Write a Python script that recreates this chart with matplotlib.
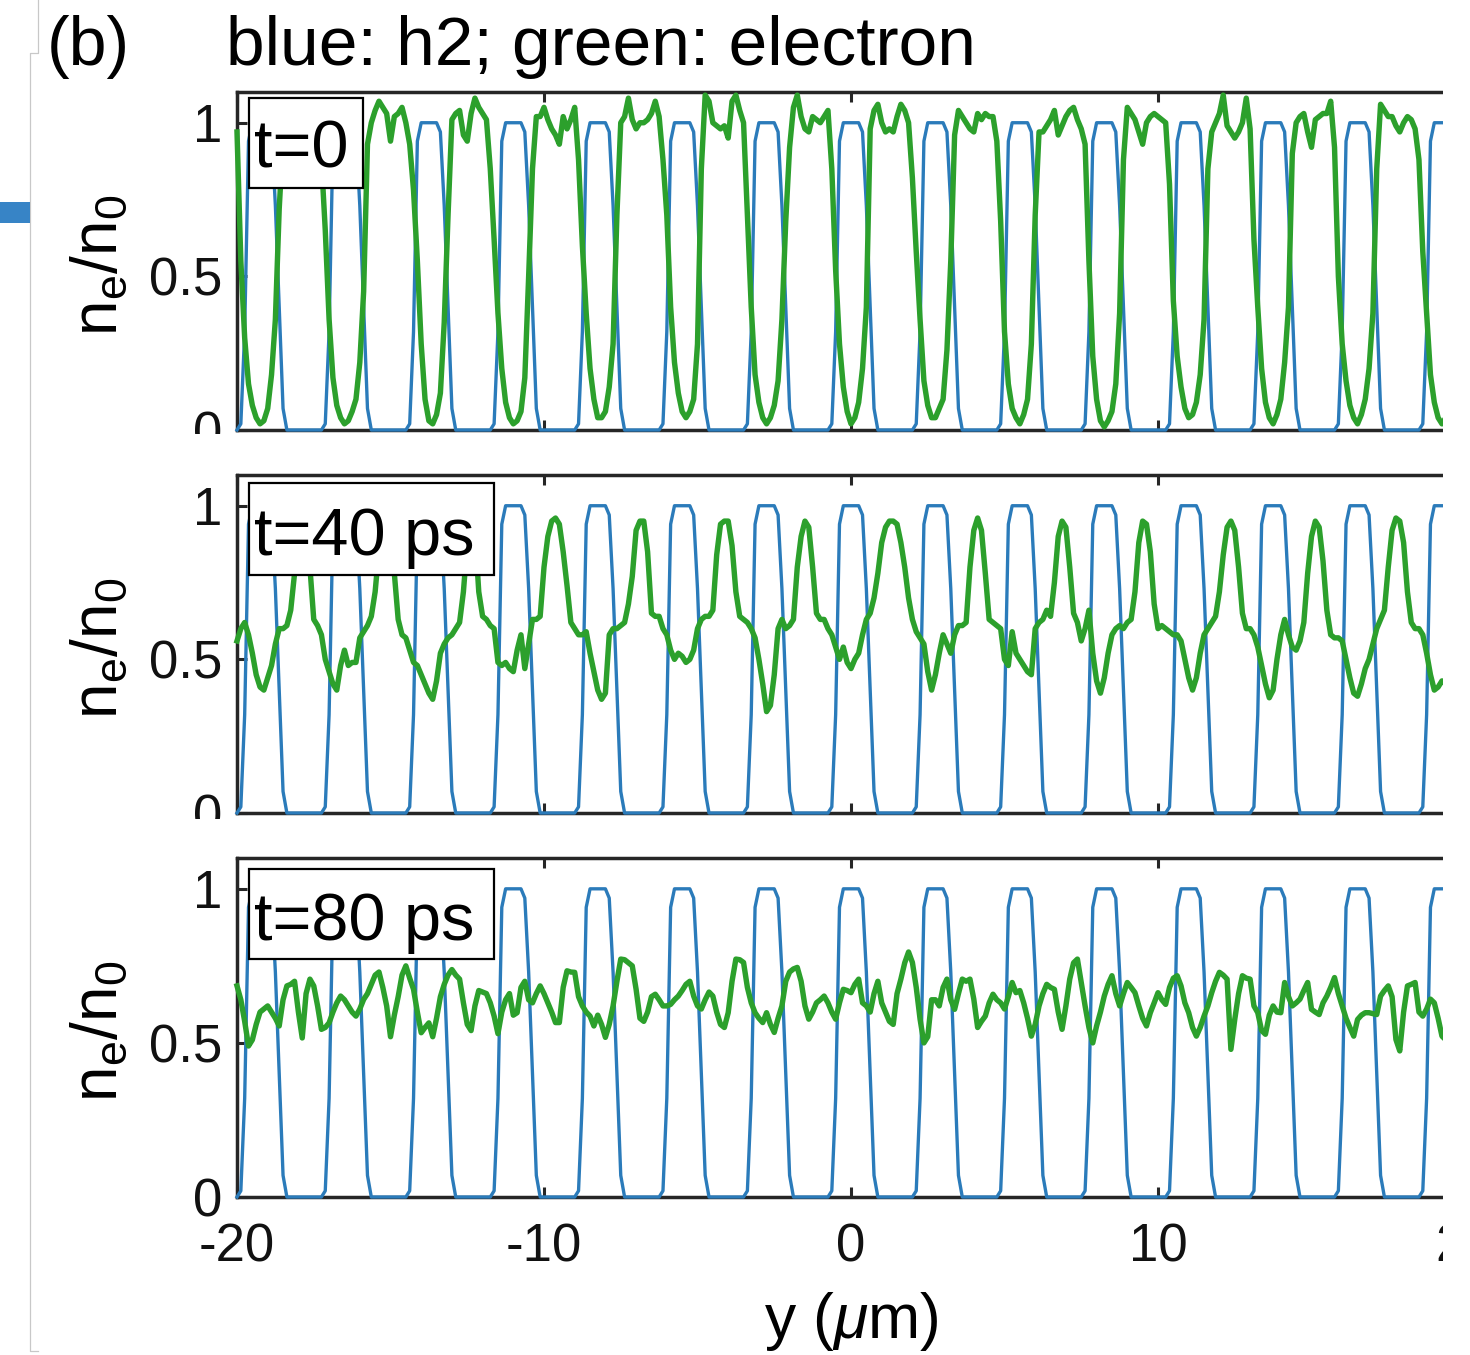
import numpy as np
import matplotlib
matplotlib.use("Agg")
import matplotlib.pyplot as plt
from matplotlib.patches import Rectangle
from matplotlib.lines import Line2D

plt.rcParams['font.family'] = ['Liberation Sans', 'DejaVu Sans']
plt.rcParams['mathtext.fontset'] = 'custom'
plt.rcParams['mathtext.rm'] = 'Liberation Sans'
plt.rcParams['mathtext.it'] = 'Liberation Sans:italic'

# ---------------- data ----------------
y_min, y_max = -20.0, 20.0

h2_density = [
    0, 0.02, 0.32, 0.94, 1, 1, 1, 1, 1, 0.97, 0.73, 0.40, 0.07, 0, 0, 0, 0,
    0, 0, 0, 0, 0, 0, 0.02, 0.32, 0.94, 1, 1, 1, 1, 1, 0.97, 0.73, 0.40, 0.07, 0, 0, 0, 0,
    0, 0, 0, 0, 0, 0, 0.02, 0.32, 0.94, 1, 1, 1, 1, 1, 0.97, 0.73, 0.40, 0.07, 0, 0, 0, 0,
    0, 0, 0, 0, 0, 0, 0.02, 0.32, 0.94, 1, 1, 1, 1, 1, 0.97, 0.73, 0.40, 0.07, 0, 0, 0, 0,
    0, 0, 0, 0, 0, 0, 0.02, 0.32, 0.94, 1, 1, 1, 1, 1, 0.97, 0.73, 0.40, 0.07, 0, 0, 0, 0,
    0, 0, 0, 0, 0, 0, 0.02, 0.32, 0.94, 1, 1, 1, 1, 1, 0.97, 0.73, 0.40, 0.07, 0, 0, 0, 0,
    0, 0, 0, 0, 0, 0, 0.02, 0.32, 0.94, 1, 1, 1, 1, 1, 0.97, 0.73, 0.40, 0.07, 0, 0, 0, 0,
    0, 0, 0, 0, 0, 0, 0.02, 0.32, 0.94, 1, 1, 1, 1, 1, 0.97, 0.73, 0.40, 0.07, 0, 0, 0, 0,
    0, 0, 0, 0, 0, 0, 0.02, 0.32, 0.94, 1, 1, 1, 1, 1, 0.97, 0.73, 0.40, 0.07, 0, 0, 0, 0,
    0, 0, 0, 0, 0, 0, 0.02, 0.32, 0.94, 1, 1, 1, 1, 1, 0.97, 0.73, 0.40, 0.07, 0, 0, 0, 0,
    0, 0, 0, 0, 0, 0, 0.02, 0.32, 0.94, 1, 1, 1, 1, 1, 0.97, 0.73, 0.40, 0.07, 0, 0, 0, 0,
    0, 0, 0, 0, 0, 0, 0.02, 0.32, 0.94, 1, 1, 1, 1, 1, 0.97, 0.73, 0.40, 0.07, 0, 0, 0, 0,
    0, 0, 0, 0, 0, 0, 0.02, 0.32, 0.94, 1, 1, 1, 1, 1, 0.97, 0.73, 0.40, 0.07, 0, 0, 0, 0,
    0, 0, 0, 0, 0, 0, 0.02, 0.32, 0.94, 1, 1, 1, 1, 1, 0.97, 0.73, 0.40, 0.07, 0, 0, 0, 0,
    0, 0, 0, 0, 0, 0, 0.02, 0.32, 0.94, 1, 1, 1, 1, 1, 0.97, 0.73, 0.40, 0.07,
]

electron_t0 = [
    0.97, 0.55, 0.30, 0.15, 0.08, 0.04, 0.02, 0.03, 0.07, 0.18, 0.36, 0.72, 0.95, 1.02, 1.05, 0.98, 1.03,
    1.00, 0.96, 1.04, 1.01, 0.97, 0.88, 0.65, 0.36, 0.17, 0.08, 0.04, 0.02, 0.03, 0.06, 0.10, 0.22, 0.45, 0.93, 1.00, 1.04, 1.07, 1.05,
    1.03, 0.94, 1.02, 1.03, 1.05, 1.00, 0.93, 0.78, 0.55, 0.28, 0.10, 0.03, 0.02, 0.05, 0.12, 0.35, 0.70, 1.01, 1.03, 1.04, 0.96, 0.94,
    1.03, 1.08, 1.05, 1.03, 1.01, 0.85, 0.62, 0.38, 0.20, 0.09, 0.04, 0.02, 0.03, 0.06, 0.17, 0.50, 0.85, 1.02, 1.02, 1.05, 1.01, 0.98,
    0.96, 0.93, 1.02, 0.98, 1.01, 1.05, 0.88, 0.60, 0.38, 0.20, 0.10, 0.04, 0.04, 0.06, 0.14, 0.28, 0.70, 1.00, 1.02, 1.08, 1.01, 0.98,
    1.00, 1.00, 1.01, 1.03, 1.07, 1.02, 0.88, 0.70, 0.40, 0.22, 0.12, 0.06, 0.04, 0.06, 0.10, 0.28, 0.85, 1.09, 1.07, 1.00, 0.99, 0.98,
    0.99, 0.95, 1.07, 1.09, 1.04, 1.00, 0.70, 0.40, 0.18, 0.09, 0.04, 0.02, 0.04, 0.08, 0.16, 0.36, 0.68, 0.92, 1.05, 1.09, 1.02, 0.98,
    0.97, 1.02, 1.01, 1.00, 1.02, 1.04, 0.85, 0.52, 0.28, 0.14, 0.06, 0.02, 0.04, 0.09, 0.20, 0.40, 0.98, 1.04, 1.06, 1.00, 0.97, 0.98,
    0.97, 1.02, 1.06, 1.04, 1.00, 0.82, 0.58, 0.36, 0.16, 0.08, 0.04, 0.04, 0.07, 0.10, 0.26, 0.55, 0.96, 1.04, 1.02, 1.00, 0.98, 0.97,
    1.03, 1.01, 1.03, 1.02, 1.02, 0.94, 0.68, 0.32, 0.15, 0.07, 0.04, 0.02, 0.05, 0.10, 0.28, 0.70, 0.97, 0.97, 0.99, 1.01, 1.04, 0.96,
    0.99, 1.02, 1.04, 1.05, 1.01, 0.98, 0.93, 0.55, 0.24, 0.10, 0.03, 0.01, 0.03, 0.06, 0.15, 0.38, 0.88, 1.05, 1.03, 1.01, 0.97, 0.93,
    1.00, 1.02, 1.03, 1.02, 1.01, 1.00, 0.80, 0.42, 0.24, 0.14, 0.07, 0.04, 0.05, 0.09, 0.18, 0.36, 0.85, 0.97, 1.00, 1.03, 1.09, 0.99,
    0.97, 0.95, 0.97, 1.00, 1.08, 0.98, 0.62, 0.40, 0.20, 0.09, 0.04, 0.02, 0.05, 0.10, 0.22, 0.40, 0.90, 1.00, 1.02, 1.03, 0.97, 0.92,
    1.01, 1.02, 1.03, 1.03, 1.07, 0.92, 0.50, 0.28, 0.16, 0.08, 0.04, 0.02, 0.05, 0.10, 0.20, 0.38, 0.85, 1.06, 1.04, 1.02, 1.02, 0.99,
    0.97, 1.00, 1.02, 1.01, 0.98, 0.88, 0.58, 0.38, 0.18, 0.09, 0.04, 0.02, 0.04, 0.09, 0.20, 0.40, 0.80, 0.97,
]

electron_t40 = [
    0.56, 0.60, 0.62, 0.58, 0.52, 0.45, 0.41, 0.40, 0.44, 0.48, 0.55, 0.60, 0.60, 0.61, 0.66, 0.78, 0.90,
    0.95, 0.93, 0.80, 0.63, 0.61, 0.58, 0.50, 0.46, 0.42, 0.40, 0.48, 0.53, 0.48, 0.49, 0.49, 0.57, 0.59, 0.61, 0.64, 0.72, 0.86, 0.94,
    0.96, 0.93, 0.78, 0.63, 0.58, 0.57, 0.53, 0.49, 0.48, 0.45, 0.42, 0.39, 0.37, 0.43, 0.52, 0.55, 0.57, 0.58, 0.60, 0.62, 0.72, 0.88,
    0.95, 0.92, 0.72, 0.64, 0.63, 0.61, 0.60, 0.49, 0.48, 0.49, 0.47, 0.46, 0.53, 0.58, 0.47, 0.55, 0.63, 0.63, 0.64, 0.80, 0.90, 0.95,
    0.96, 0.94, 0.85, 0.74, 0.62, 0.60, 0.58, 0.58, 0.59, 0.52, 0.46, 0.40, 0.37, 0.39, 0.58, 0.60, 0.60, 0.61, 0.62, 0.68, 0.77, 0.92,
    0.95, 0.95, 0.85, 0.65, 0.64, 0.64, 0.60, 0.58, 0.53, 0.50, 0.52, 0.51, 0.49, 0.50, 0.53, 0.60, 0.63, 0.64, 0.64, 0.66, 0.84, 0.94,
    0.95, 0.95, 0.87, 0.72, 0.64, 0.63, 0.62, 0.60, 0.57, 0.50, 0.42, 0.33, 0.35, 0.45, 0.60, 0.63, 0.60, 0.61, 0.63, 0.80, 0.90, 0.95,
    0.93, 0.80, 0.65, 0.63, 0.63, 0.60, 0.58, 0.54, 0.50, 0.54, 0.49, 0.47, 0.50, 0.52, 0.58, 0.63, 0.65, 0.70, 0.78, 0.88, 0.93, 0.95,
    0.95, 0.94, 0.88, 0.80, 0.70, 0.63, 0.59, 0.57, 0.55, 0.46, 0.40, 0.45, 0.52, 0.58, 0.55, 0.52, 0.58, 0.61, 0.61, 0.62, 0.80, 0.92,
    0.96, 0.92, 0.78, 0.63, 0.62, 0.61, 0.60, 0.50, 0.48, 0.59, 0.52, 0.50, 0.48, 0.46, 0.45, 0.60, 0.62, 0.63, 0.66, 0.64, 0.75, 0.90,
    0.95, 0.93, 0.80, 0.65, 0.62, 0.56, 0.60, 0.66, 0.52, 0.43, 0.39, 0.44, 0.52, 0.58, 0.60, 0.61, 0.60, 0.62, 0.63, 0.72, 0.88, 0.95,
    0.94, 0.85, 0.68, 0.60, 0.61, 0.60, 0.59, 0.58, 0.58, 0.56, 0.50, 0.44, 0.40, 0.44, 0.52, 0.58, 0.60, 0.62, 0.64, 0.72, 0.84, 0.93,
    0.95, 0.92, 0.80, 0.65, 0.60, 0.60, 0.58, 0.54, 0.48, 0.42, 0.375, 0.40, 0.50, 0.58, 0.63, 0.58, 0.54, 0.53, 0.56, 0.62, 0.78, 0.90,
    0.95, 0.93, 0.82, 0.66, 0.58, 0.57, 0.57, 0.56, 0.50, 0.44, 0.39, 0.38, 0.42, 0.47, 0.50, 0.55, 0.60, 0.63, 0.66, 0.80, 0.92, 0.96,
    0.95, 0.88, 0.72, 0.62, 0.60, 0.60, 0.58, 0.52, 0.45, 0.40, 0.41, 0.43, 0.42, 0.48, 0.55, 0.58, 0.60, 0.60,
]

electron_t80 = [
    0.685, 0.64, 0.57, 0.49, 0.51, 0.56, 0.60, 0.61, 0.62, 0.60, 0.58, 0.555, 0.64, 0.685, 0.69, 0.70, 0.60, 0.516, 0.66, 0.707,
    0.685, 0.62, 0.544, 0.55, 0.565, 0.60, 0.63, 0.652, 0.64, 0.62, 0.60, 0.587, 0.61, 0.641, 0.66, 0.69, 0.72, 0.73, 0.68, 0.62,
    0.52, 0.59, 0.65, 0.72, 0.75, 0.71, 0.674, 0.60, 0.533, 0.55, 0.565, 0.52, 0.58, 0.65, 0.69, 0.72, 0.738, 0.72, 0.707, 0.63,
    0.56, 0.54, 0.62, 0.67, 0.665, 0.66, 0.63, 0.587, 0.53, 0.60, 0.64, 0.66, 0.59, 0.598, 0.68, 0.70, 0.64, 0.63, 0.66, 0.685,
    0.66, 0.63, 0.60, 0.566, 0.566, 0.68, 0.734, 0.73, 0.729, 0.65, 0.62, 0.60, 0.587, 0.555, 0.59, 0.56, 0.518, 0.56, 0.62, 0.70,
    0.772, 0.77, 0.76, 0.75, 0.674, 0.58, 0.57, 0.60, 0.65, 0.658, 0.64, 0.62, 0.62, 0.625, 0.64, 0.652, 0.67, 0.69, 0.70, 0.652,
    0.62, 0.61, 0.64, 0.665, 0.652, 0.60, 0.56, 0.55, 0.598, 0.70, 0.772, 0.77, 0.761, 0.68, 0.63, 0.598, 0.58, 0.566, 0.598, 0.56,
    0.534, 0.58, 0.62, 0.70, 0.73, 0.74, 0.745, 0.70, 0.62, 0.577, 0.60, 0.63, 0.64, 0.652, 0.63, 0.60, 0.577, 0.63, 0.674, 0.67,
    0.663, 0.69, 0.707, 0.63, 0.62, 0.60, 0.66, 0.70, 0.63, 0.60, 0.57, 0.56, 0.66, 0.707, 0.76, 0.795, 0.761, 0.68, 0.577, 0.50,
    0.52, 0.64, 0.64, 0.62, 0.68, 0.707, 0.64, 0.609, 0.66, 0.707, 0.70, 0.707, 0.642, 0.55, 0.57, 0.587, 0.63, 0.658, 0.64, 0.63,
    0.61, 0.65, 0.696, 0.663, 0.67, 0.63, 0.58, 0.522, 0.56, 0.62, 0.66, 0.69, 0.68, 0.674, 0.60, 0.544, 0.62, 0.707, 0.76, 0.772,
    0.696, 0.62, 0.55, 0.50, 0.555, 0.60, 0.652, 0.69, 0.718, 0.66, 0.62, 0.66, 0.696, 0.68, 0.663, 0.62, 0.58, 0.555, 0.598, 0.63,
    0.663, 0.64, 0.625, 0.68, 0.71, 0.718, 0.685, 0.63, 0.598, 0.55, 0.522, 0.55, 0.587, 0.62, 0.663, 0.70, 0.729, 0.72, 0.707, 0.479,
    0.576, 0.66, 0.718, 0.71, 0.707, 0.62, 0.598, 0.54, 0.528, 0.59, 0.62, 0.60, 0.598, 0.696, 0.65, 0.62, 0.63, 0.642, 0.67, 0.696,
    0.609, 0.60, 0.592, 0.63, 0.652, 0.68, 0.712, 0.66, 0.62, 0.58, 0.55, 0.522, 0.576, 0.59, 0.598, 0.598, 0.595, 0.592, 0.652, 0.67,
    0.685, 0.65, 0.511, 0.474, 0.60, 0.685, 0.69, 0.696, 0.60, 0.587, 0.61, 0.642, 0.63, 0.58, 0.522, 0.51, 0.50, 0.52, 0.55, 0.56, 0.55,
]

panel_labels = ['t=0', 't=40 ps', 't=80 ps']
x_ticks = [-20, -10, 0, 10, 20]
x_tick_labels = ['-20', '-10', '0', '10', '20']
y_ticks = [0, 0.5, 1]
y_tick_labels = ['0', '0.5', '1']
y_limits = (0, 1.1)

# ---------------- layout / style ----------------
W, H = 1470, 1355
fig = plt.figure(figsize=(W / 100, H / 100), dpi=100)


def fx(px):
    return px / W


def fy(py):
    return 1 - py / H


BLUE = '#2b7bba'
GREEN = '#2ca02c'
DARK = '#262626'

AX_L, AX_R = 237, 1465
PANELS = [(92, 430), (475, 813), (858, 1197)]
BOXES = [(249, 98, 363, 188), (249, 483, 494, 575), (249, 869, 494, 959)]
BASELINES = [167, 555, 940]

electrons = [electron_t0, electron_t40, electron_t80]

for k, (top, bot) in enumerate(PANELS):
    ax = fig.add_axes([fx(AX_L), fy(bot), (AX_R - AX_L) / W, (bot - top) / H])
    yb = np.linspace(y_min, y_max, len(h2_density))
    ye = np.linspace(y_min, y_max, len(electrons[k]))
    ax.plot(yb, h2_density, color=BLUE, lw=2.4, zorder=3, clip_on=False,
            solid_joinstyle='round')
    ax.plot(ye, electrons[k], color=GREEN, lw=3.9, zorder=4, clip_on=False,
            solid_joinstyle='round')
    ax.set_xlim(y_min, y_max)
    ax.set_ylim(*y_limits)
    ax.set_xticks(x_ticks)
    ax.set_xticklabels(x_tick_labels)
    ax.set_yticks(y_ticks)
    ax.set_yticklabels(y_tick_labels)
    for s in ax.spines.values():
        s.set_linewidth(2.5)
        s.set_color(DARK)
    ax.tick_params(direction='in', length=7.5, width=2.2, color=DARK,
                   top=True, right=True, labelsize=38, labelcolor='#111111')
    ax.tick_params(axis='x', pad=18.5)
    ax.tick_params(axis='y', pad=10.5)
    if k < 2:
        ax.tick_params(axis='x', labelbottom=False)

    # label box
    x0, y0, x1, y1 = BOXES[k]
    fig.add_artist(Rectangle((fx(x0), fy(y1)), (x1 - x0) / W, (y1 - y0) / H,
                             transform=fig.transFigure, facecolor='white',
                             edgecolor='black', lw=1.6, zorder=5))
    fig.text(fx(254), fy(BASELINES[k]), panel_labels[k], fontsize=48,
             ha='left', va='baseline', zorder=6)

    # y label
    fig.text(fx(100), fy((top + bot) / 2 + 4), r'$\mathregular{n_e/n_0}$',
             rotation=90, ha='center', va='center', fontsize=46)

# x label and titles
fig.text(fx(851), fy(1338), r'y ($\mu$m)', ha='center', va='baseline', fontsize=45)
fig.text(fx(47), fy(65), '(b)', ha='left', va='baseline', fontsize=49)
fig.text(fx(226), fy(65), 'blue: h2; green: electron', ha='left', va='baseline', fontsize=50)

# cropping artefacts of the original figure
for (cx0, cy0, cx1, cy1) in [(1443, 0, 1470, 1355), (130, 434, 236, 474), (130, 819, 236, 857)]:
    fig.add_artist(Rectangle((fx(cx0), fy(cy1)), (cx1 - cx0) / W, (cy1 - cy0) / H,
                             transform=fig.transFigure, facecolor='white',
                             edgecolor='none', zorder=20))

fig.add_artist(Line2D([fx(38), fx(38), fx(30), fx(30), fx(38)],
                      [fy(0), fy(53), fy(53), fy(1351), fy(1351)],
                      transform=fig.transFigure, color='#c8c8c8', lw=0.9, zorder=21))
fig.add_artist(Rectangle((fx(0), fy(223)), 30 / W, 21 / H, transform=fig.transFigure,
                         facecolor='#3784c6', edgecolor='none', zorder=21))

fig.savefig('out.png', dpi=100, facecolor='white')
